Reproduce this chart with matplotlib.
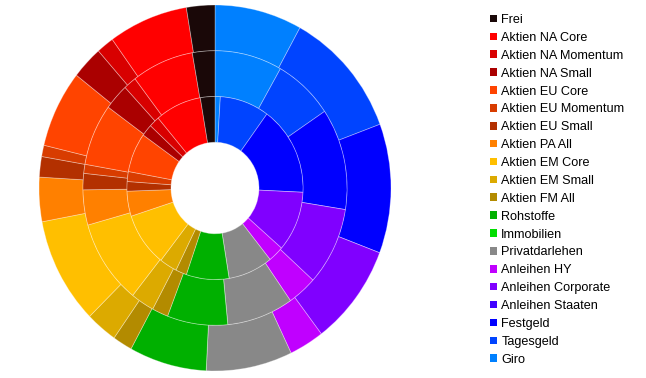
import numpy as np
import matplotlib
matplotlib.use("Agg")
from matplotlib import pyplot as plt
from matplotlib.patches import Patch

plt.rcParams['font.family'] = ['Liberation Sans', 'DejaVu Sans']

# categories in clockwise order starting at 12 o'clock
labels = ['Giro', 'Tagesgeld', 'Festgeld', 'Anleihen Staaten', 'Anleihen Corporate',
          'Anleihen HY', 'Privatdarlehen', 'Immobilien', 'Rohstoffe', 'Aktien FM All',
          'Aktien EM Small', 'Aktien EM Core', 'Aktien PA All', 'Aktien EU Small',
          'Aktien EU Momentum', 'Aktien EU Core', 'Aktien NA Small', 'Aktien NA Momentum',
          'Aktien NA Core', 'Frei']

colors = ['#0080ff', '#0044ff', '#0000ff', '#4000ff', '#8000ff',
          '#c000ff', '#888888', '#00dd00', '#00b000', '#b38b00',
          '#dcaa00', '#ffbf00', '#ff8000', '#b33000',
          '#d83c00', '#ff4400', '#aa0000', '#d80000',
          '#ff0000', '#1a0808']

# shares in percent, one list per ring
outer = [8.0, 11.3, 11.4, 0, 8.9, 3.2, 7.9, 0, 7.1, 1.8,
         2.9, 9.4, 3.9, 1.8, 1.0, 6.8, 2.9, 1.6, 7.3, 2.6]
middle = [8.25, 7.33, 11.94, 0, 9.19, 3.61, 8.14, 0, 7.39, 1.97,
          2.89, 9.94, 4.14, 1.92, 1.06, 7.25, 3.06, 1.56, 7.61, 2.75]
inner = [0.97, 9.06, 15.72, 0, 10.64, 2.86, 8.19, 0, 7.83, 2.03,
         3.22, 9.5, 4.42, 1.69, 1.75, 6.94, 2.08, 1.92, 8.5, 2.67]

fig = plt.figure(figsize=(6.46, 3.78), dpi=100)
ax = fig.add_axes([39 / 646, 7 / 378, 352 / 646, 366 / 378])

wp = dict(width=0.25, edgecolor=(1, 1, 1, 0.35), linewidth=0.6)
for data, r in [(outer, 1.0), (middle, 0.75), (inner, 0.5)]:
    ax.pie(data, radius=r, colors=colors, startangle=90, counterclock=False,
           wedgeprops=wp)

ax.set_aspect('auto')
ax.set_xlim(-1, 1)
ax.set_ylim(-1, 1)
ax.axis('off')

handles = [Patch(facecolor=c, edgecolor='none') for c in colors[::-1]]
fig.legend(handles, labels[::-1], loc='upper left', bbox_to_anchor=(490 / 646, 1 - 14 / 378),
           frameon=False, fontsize=9.1, handlelength=0.55, handleheight=0.55,
           handletextpad=0.35, labelspacing=0.465, borderaxespad=0, borderpad=0)

fig.savefig('out.png', dpi=100)
